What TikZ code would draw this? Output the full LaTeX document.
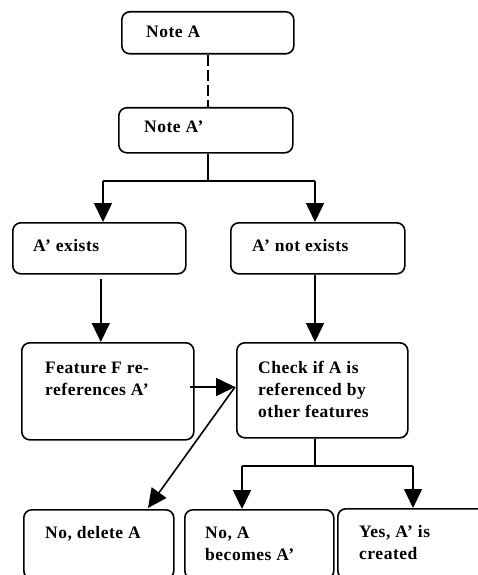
\documentclass[tikz,border=0pt]{standalone}
\usepackage{fontspec}
\setmainfont{Liberation Serif}[LetterSpace=3]
\usetikzlibrary{arrows.meta,calc}

\tikzset{
  box/.style={draw, line width=1.6pt, rounded corners=8pt, inner sep=0pt},
  lbl/.style={inner sep=0pt, anchor=base west,
    font=\fontsize{17.5}{22}\selectfont\bfseries},
  conn/.style={line width=1.6pt},
  arr/.style={conn, -{Triangle[length=19pt,width=18pt]}},
}

% box from its top-left and bottom-right corners
\newcommand{\flowbox}[3]{%
  \path let \p1=#2, \p2=#3 in
    node[box, minimum width={\x2-\x1}, minimum height={\y1-\y2}, anchor=north west] (#1) at #2 {};}
% left-aligned lines whose baseline is that of the first line
\newcommand{\boxlines}[1]{\parbox[t]{170pt}{\raggedright #1}}

\begin{document}
\begin{tikzpicture}[x=1pt,y=-1pt]
\useasboundingbox (0,0) rectangle (477,575);

% boxes
\flowbox{na}{(121,11)}{(293,53)}
\flowbox{nap}{(118,107)}{(292,152)}
\flowbox{ex}{(12,222)}{(185,273)}
\flowbox{nex}{(230,222)}{(404,273)}
\flowbox{feat}{(21,342)}{(193,439)}
\flowbox{chk}{(236,342)}{(407,437)}
\flowbox{del}{(23,509)}{(173,578)}
\flowbox{bec}{(184,509)}{(333,578)}
\flowbox{yes}{(337,508)}{(492,578)}

% texts
\node[lbl] (na-t) at ($(na.north west)+(25,27)$) {Note A};
\node[lbl] (nap-t) at ($(nap.north west)+(26,25)$) {Note A’};
\node[lbl] (ex-t) at ($(ex.north west)+(21,29)$) {A’ exists};
\node[lbl] (nex-t) at ($(nex.north west)+(22,29)$) {A’ not exists};
\node[lbl] (feat-t) at ($(feat.north west)+(24,31)$) {\boxlines{Feature F re-\\references A’}};
\node[lbl] (chk-t) at ($(chk.north west)+(22,31)$) {\boxlines{Check if A is\\referenced by\\other features}};
\node[lbl] (del-t) at ($(del.north west)+(22,29)$) {No, delete A};
\node[lbl] (bec-t) at ($(bec.north west)+(21,29)$) {\boxlines{No, A\\becomes A’}};
\node[lbl] (yes-t) at ($(yes.north west)+(22,29)$) {\boxlines{Yes, A’ is\\created}};

% junction points
\coordinate (j1) at (208,181);
\coordinate (j1l) at (103,181);
\coordinate (j1r) at (315,181);
\coordinate (j2) at (315,466);
\coordinate (j2l) at (242,466);
\coordinate (j2r) at (413,466);
\coordinate (fo) at (190,387);
\coordinate (ci) at (235,387);
\coordinate (dt) at (148,508);

% connectors
\draw[conn, line width=1.3pt, dash pattern=on 11pt off 4pt] (na.south -| j1) -- (nap.north -| j1);
\draw[conn] (nap.south -| j1) -- (j1);
\draw[conn] (j1l) -- (j1r);
\draw[arr] (j1l) -- (ex.north -| j1l);
\draw[arr] (j1r) -- (nex.north -| j1r);
\draw[arr] ($(ex.south)+(1.5,4)$) -- ($(feat.north)+(-7,0)$);
\draw[arr] (nex.south -| j1r) -- (chk.north -| j1r);
\draw[arr] (fo) -- (ci);
\draw[arr] (ci) -- (dt);
\draw[conn] (chk.south -| j2) -- (j2);
\draw[conn] (j2l) -- (j2r);
\draw[arr] (j2l) -- (bec.north -| j2l);
\draw[arr] (j2r) -- (yes.north -| j2r);
\end{tikzpicture}
\end{document}
